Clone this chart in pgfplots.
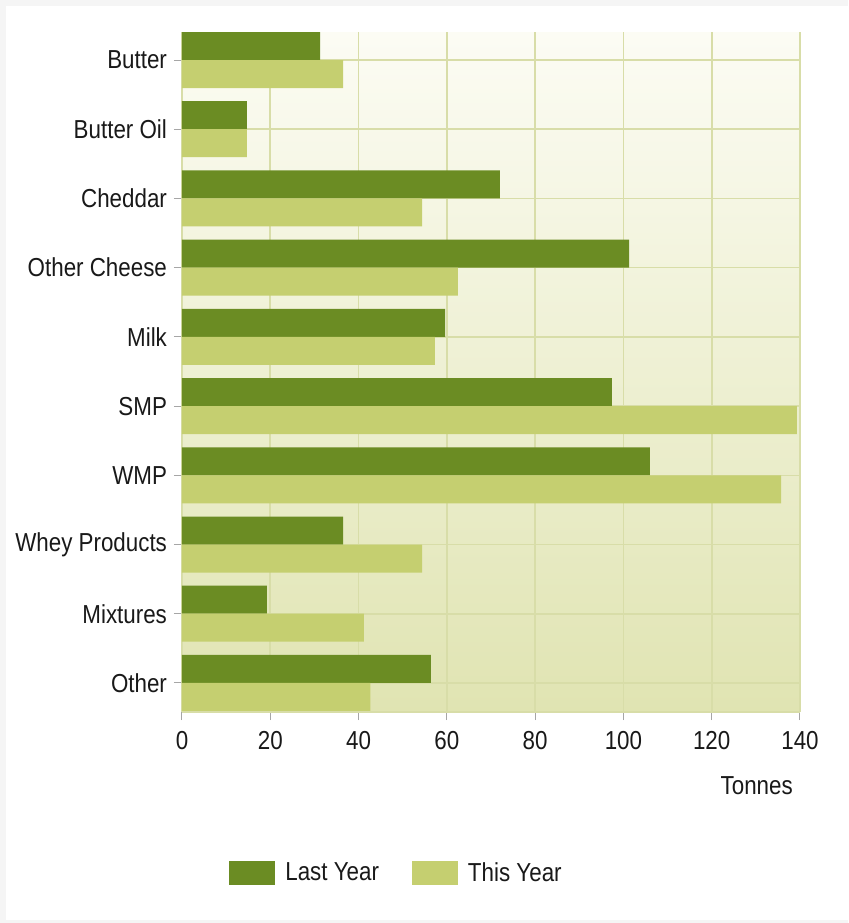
\documentclass[border=0pt]{standalone}
\usepackage{pgfplots}
\pgfplotsset{compat=1.18}
\usepackage{pgfplotstable}
\usepackage{fontspec}
\setmainfont{Liberation Sans}[FakeStretch=0.86]
\definecolor{darkg}{RGB}{107,140,35}
\definecolor{lightg}{RGB}{197,207,112}
\definecolor{gridc}{RGB}{216,221,168}
\definecolor{bgtop}{RGB}{252,252,244}
\definecolor{bgbot}{RGB}{224,228,178}
\definecolor{frameg}{RGB}{245,245,245}
\pgfplotstableread{
y last this
9 31.3 36.5
8 14.7 14.7
7 72.0 54.4
6 101.3 62.5
5 59.6 57.3
4 97.4 139.3
3 106.0 135.7
2 36.5 54.4
1 19.2 41.2
0 56.4 42.7
}\datatab
\begin{document}
\begin{tikzpicture}
\fill[frameg] (-91pt,-105.5pt) rectangle (333pt,356pt);
\fill[white] (-88pt,-104pt) rectangle (333pt,353pt);
\path[use as bounding box] (-91pt,-105.5pt) rectangle (333pt,356pt);
\begin{axis}[
  at={(0,0)}, anchor=south west,
  scale only axis, width=309pt, height=340pt,
  xbar, bar width=14pt,
  xmin=0, xmax=140, ymin=-0.42, ymax=9.405,
  xtick={0,20,...,140},
  ytick={0,...,9},
  yticklabels={Other,Mixtures,Whey Products,WMP,SMP,Milk,Other Cheese,Cheddar,Butter Oil,Butter},
  font=\fontsize{13}{15}\selectfont,
  /pgf/number format/assume math mode=true,
  tick label style={font=\fontsize{13}{15}\selectfont, text=black!90},
  xticklabel style={yshift=-2pt},
  yticklabel style={xshift=0pt},
  grid=major,
  major grid style={gridc, line width=0.8pt},
  axis line style={gridc, line width=0.8pt},
  axis lines*=left,
  tick style={gray!70, line width=0.5pt},
  major tick length=4pt,
  tick align=outside,
  axis background/.style={top color=bgtop, bottom color=bgbot},
  xlabel={Tonnes},
  xlabel style={at={(axis description cs:0.93,-0.109)}, anchor=center, font=\fontsize{13}{15}\selectfont, text=black!90},
  legend style={at={(axis description cs:0.3487,-0.237)}, anchor=center, draw=none, fill=none,
    legend columns=2, font=\fontsize{13}{15}\selectfont, text=black!90,
    /tikz/every even column/.append style={column sep=14.5pt}},
  legend cell align=left,
  legend image code/.code={\fill[#1] (0pt,-6pt) rectangle (23pt,6pt); \path (26pt,0pt);},
]
\addplot[fill=darkg, draw=none, bar shift=7pt] table[x=last, y=y] {\datatab};
\addplot[fill=lightg, draw=none, bar shift=-7pt] table[x=this, y=y] {\datatab};
\legend{Last Year, This Year}
\end{axis}
\end{tikzpicture}
\end{document}
